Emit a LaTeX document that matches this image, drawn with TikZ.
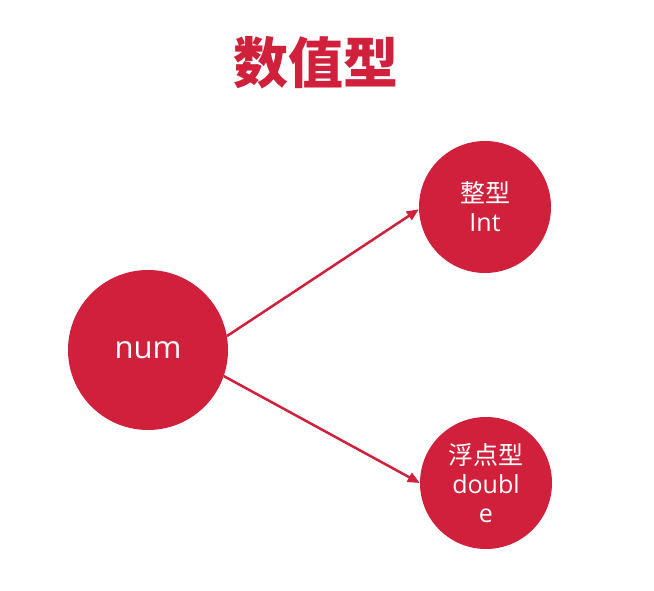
\documentclass[tikz,border=0pt]{standalone}
\usepackage{fontspec}
\setmainfont{Open Sans}
\newfontfamily\cjk{Noto Sans CJK SC}
\usetikzlibrary{arrows.meta}
\definecolor{crim}{HTML}{D0203C}
\tikzset{
  bubble/.style={circle, fill=crim, draw=none, text=white, inner sep=0pt, align=center},
  smallbubble/.style={bubble, minimum size=132pt, font=\fontsize{25}{29}\selectfont},
  conn/.style={draw=crim, line width=2.5pt, -{Triangle[length=12pt,width=10pt]}}
}
\begin{document}
\begin{tikzpicture}[x=1pt,y=1pt]
\useasboundingbox (0,0) rectangle (654,590);
\node[text=crim, font=\cjk\bfseries\fontsize{55}{60}\selectfont, inner sep=0pt] (title) at (316,527) {数值型};
\node[bubble, minimum size=160pt, font=\fontsize{31}{36}\selectfont] (num) at (148,240) {num};
\node[smallbubble] (int) at (485,383) {{\cjk 整型}\\Int};
\node[smallbubble] (dbl) at (486,107) {{\cjk 浮点型}\\doubl\\e};
\draw[conn] (num.10) -- (int.182);
\draw[conn] (num.-19) -- (dbl.180);
\end{tikzpicture}
\end{document}
